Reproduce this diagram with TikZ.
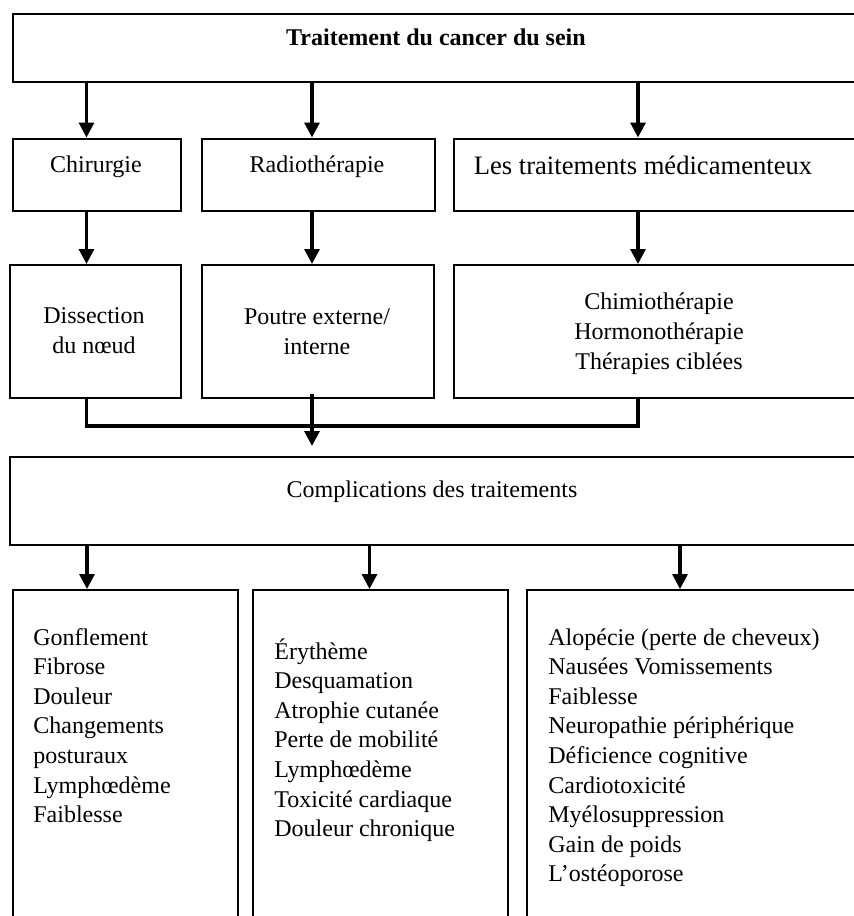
\documentclass[tikz,border=0pt]{standalone}
\usepackage{fontspec}
\setmainfont{Liberation Serif}
\usetikzlibrary{arrows.meta,positioning,calc}

\tikzset{
    boite/.style={draw, line width=1pt, rectangle, inner sep=0pt, anchor=north west},
    txt/.style={inner sep=0pt, font=\fontsize{12}{14.8}\selectfont},
    fleche/.style={line width=1.6pt, -{Triangle[length=7.5pt,width=7.5pt]}},
    lien/.style={line width=1.6pt}
}

\begin{document}
\begin{tikzpicture}[x=0.5pt, y=-0.5pt]
    \useasboundingbox[fill=white] (0,0) rectangle (854,916);

    % Boxes, row by row
    \node[boite, minimum width=425pt, minimum height=34pt] (top) at (12,13) {};

    \node[boite, minimum width=84pt, minimum height=36pt] (chir) at (12,137.5) {};
    \node[boite, minimum width=116.5pt, minimum height=36pt] (radio) at (201,137.5) {};
    \node[boite, minimum width=204.5pt, minimum height=36pt] (med) at (453,137.5) {};

    \node[boite, minimum width=85.5pt, minimum height=66.5pt] (diss) at (9,264) {};
    \node[boite, minimum width=116pt, minimum height=66.5pt] (pout) at (201,264) {};
    \node[boite, minimum width=204.5pt, minimum height=66.5pt] (chim) at (453,264) {};

    \node[boite, minimum width=426.5pt, minimum height=44pt] (comp) at (9,456) {};

    \node[boite, minimum width=112.5pt, minimum height=170pt] (b1) at (12,589) {};
    \node[boite, minimum width=127.5pt, minimum height=170pt] (b2) at (252,589) {};
    \node[boite, minimum width=170pt, minimum height=170pt] (b3) at (526,589) {};

    % Texts (base of a multi-line node = its last line)
    \node[txt, anchor=base, font=\bfseries\fontsize{12}{14.8}\selectfont] (top-t) at (436,45) {Traitement du cancer du sein};
    \node[txt, anchor=base] (chir-t) at (96,172) {Chirurgie};
    \node[txt, anchor=base] (radio-t) at (317,172) {Radiothérapie};
    \node[txt, anchor=base, font=\fontsize{13.3}{16}\selectfont] (med-t) at (643,174) {Les traitements médicamenteux};
    \node[txt, anchor=base, align=center] (diss-t) at (94,353) {Dissection\\du nœud};
    \node[txt, anchor=base, align=center] (pout-t) at (317,354) {Poutre externe/\\interne};
    \node[txt, anchor=base, align=center] (chim-t) at (659,369) {Chimiothérapie\\Hormonothérapie\\Thérapies ciblées};
    \node[txt, anchor=base] (comp-t) at (432,497) {Complications des traitements};

    % Lists of complications
    \foreach \t [count=\i] in {Gonflement, Fibrose, Douleur, Changements, posturaux, Lymphœdème, Faiblesse}
        \node[txt, anchor=base west] (b1-\i) at (33,645+29.6*\i-29.6) {\t};
    \foreach \t [count=\i] in {Érythème, Desquamation, Atrophie cutanée, Perte de mobilité, Lymphœdème, Toxicité cardiaque, Douleur chronique}
        \node[txt, anchor=base west] (b2-\i) at (274,659+29.6*\i-29.6) {\t};
    \foreach \t [count=\i] in {Alopécie (perte de cheveux), Nausées Vomissements, Faiblesse, Neuropathie périphérique, Déficience cognitive, Cardiotoxicité, Myélosuppression, Gain de poids, L’ostéoporose}
        \node[txt, anchor=base west] (b3-\i) at (548,645+29.6*\i-29.6) {\t};

    % Columns of the connectors
    \coordinate (colA) at (86.5,0);
    \coordinate (colB) at (312,0);
    \coordinate (colC) at (638,0);
    \coordinate (colD) at (87,0);
    \coordinate (colE) at (369.5,0);
    \coordinate (colF) at (680,0);

    % Arrows
    \foreach \c/\a/\b in {colA/top/chir, colB/top/radio, colC/top/med, colA/chir/diss, colB/radio/pout, colC/med/chim}
        \draw[fleche] (\a.south -| \c) -- (\b.north -| \c);
    \draw[lien] (diss.south -| colA) -- ++(0,27) -| (chim.south -| colC);
    \draw[fleche, shorten <=-2.5pt, shorten >=5pt] (pout.south -| colB) -- (comp.north -| colB);
    \foreach \c/\b in {colD/b1, colE/b2, colF/b3}
        \draw[fleche] (comp.south -| \c) -- (\b.north -| \c);
\end{tikzpicture}
\end{document}
